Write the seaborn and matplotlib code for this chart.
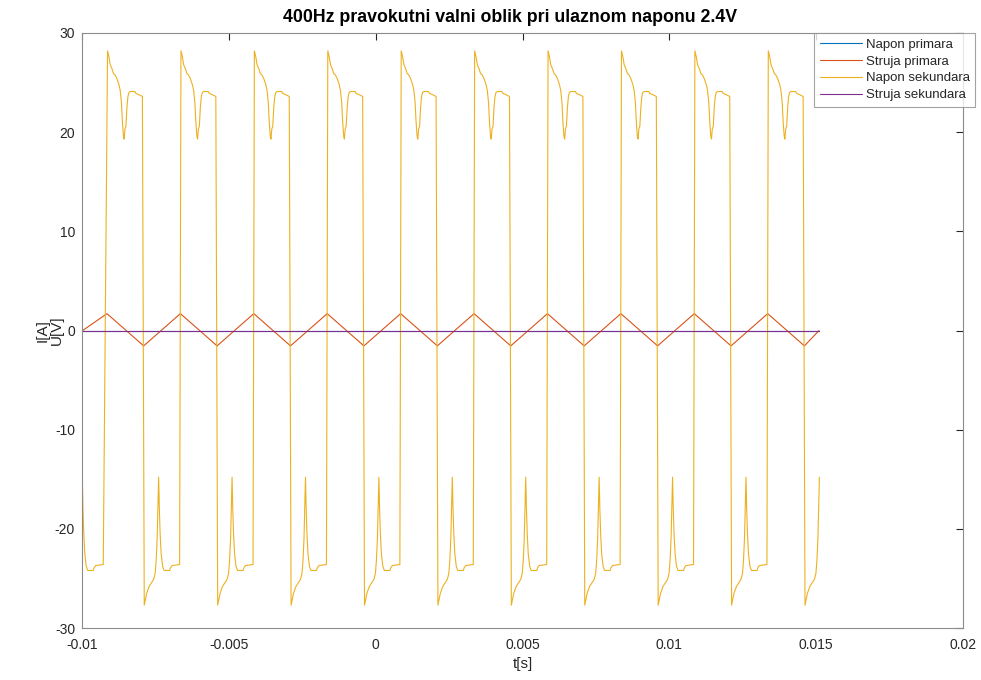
import numpy as np
import pandas as pd
import matplotlib
matplotlib.use("Agg")
import matplotlib.pyplot as plt
import seaborn as sns

# ---------------- data ----------------
title = "400Hz pravokutni valni oblik pri ulaznom naponu 2.4V"
series_names = ["Napon primara", "Struja primara", "Napon sekundara", "Struja sekundara"]
series_colors = ["#0072BD", "#D95319", "#EDB120", "#7E2F8E"]

# edge times of the secondary square wave, in ms
rising_edges_ms = [-9.15, -6.65, -4.15, -1.65, 0.85, 3.35, 5.85, 8.35, 10.85, 13.35]
falling_edges_ms = [-10.50, -7.90, -5.40, -2.90, -0.40, 2.10, 4.60, 7.10, 9.60, 12.10, 14.60]

# shape of the positive half (offset after rising edge, ms -> value V)
pos_off_ms = [0.020, 0.068, 0.112, 0.170, 0.224, 0.272, 0.340, 0.408, 0.452, 0.493,
              0.527, 0.561, 0.585, 0.612, 0.646, 0.680, 0.714, 0.748, 0.792, 0.952,
              0.986, 1.074, 1.207]
pos_val = [28.2, 27.6, 26.8, 26.4, 25.9, 25.8, 25.4, 24.8, 24.2, 23.0,
           21.0, 19.6, 19.3, 20.3, 20.6, 22.5, 23.6, 24.0, 24.1, 24.1,
           23.9, 23.8, 23.6]

# shape of the negative half (offset after falling edge, ms -> value V)
neg_off_ms = [0.020, 0.068, 0.102, 0.187, 0.272, 0.340, 0.391, 0.425, 0.459, 0.486,
              0.510, 0.534, 0.561, 0.595, 0.646, 0.697, 0.884, 0.918, 0.969, 1.224]
neg_val = [-27.7, -27.0, -26.5, -25.8, -25.4, -25.1, -24.5, -23.2, -21.0, -17.5,
           -14.8, -18.0, -20.5, -22.5, -23.8, -24.2, -24.2, -23.9, -23.7, -23.6]

t_start_ms = -10.0
t_end_ms = 15.12

# primary current: triangle vertices
red_t_ms = [-10.0, -9.15, -7.90, -6.65, -5.40, -4.15, -2.90, -1.65, -0.40, 0.85, 2.10,
            3.35, 4.60, 5.85, 7.10, 8.35, 9.60, 10.85, 12.10, 13.35, 14.60, 15.10]
red_val = [-0.05, 1.70, -1.55, 1.70, -1.55, 1.70, -1.55, 1.70, -1.55, 1.70, -1.55,
           1.70, -1.55, 1.70, -1.55, 1.70, -1.55, 1.70, -1.55, 1.70, -1.55, 0.0]

# primary voltage and secondary current (flat near zero)
flat_t_ms = [-10.0, 15.10]
blue_val = [0.0, 0.0]
purple_val = [0.0, 0.0]

x_ticks = [-0.01, -0.005, 0, 0.005, 0.01, 0.015, 0.02]
x_ticklabels = ["-0.01", "-0.005", "0", "0.005", "0.01", "0.015", "0.02"]
y_ticks = [-30, -20, -10, 0, 10, 20, 30]
y_ticklabels = ["-30", "-20", "-10", "0", "10", "20", "30"]

# ---------------- build the secondary voltage series ----------------
yt, yv = [], []
for f in falling_edges_ms:
    for o, v in zip(neg_off_ms, neg_val):
        yt.append(f + o); yv.append(v)
    nxt = [r for r in rising_edges_ms if r > f]
    if nxt:
        r = nxt[0]
        for o, v in zip(pos_off_ms, pos_val):
            yt.append(r + o); yv.append(v)
yel = pd.DataFrame({"t": np.array(yt) / 1000.0, "v": yv})
yel = yel[(yel.t >= t_start_ms / 1000.0) & (yel.t <= t_end_ms / 1000.0)]

red = pd.DataFrame({"t": np.array(red_t_ms) / 1000.0, "v": red_val})
blue = pd.DataFrame({"t": np.array(flat_t_ms) / 1000.0, "v": blue_val})
purple = pd.DataFrame({"t": np.array(flat_t_ms) / 1000.0, "v": purple_val})

# ---------------- plot ----------------
sns.set_theme(style="white")
plt.rcParams["font.family"] = ["Liberation Sans", "DejaVu Sans"]
plt.rcParams["axes.unicode_minus"] = False

fig = plt.figure(figsize=(9.81, 6.80), dpi=100)
ax = fig.add_axes([82 / 981, 1 - 628 / 680, (963 - 82) / 981, (628 - 33) / 680])

lw = 0.8
for df, name, col in zip([blue, red, yel, purple], series_names, series_colors):
    sns.lineplot(data=df, x="t", y="v", ax=ax, color=col, linewidth=lw,
                 label=name, sort=False, estimator=None)

ax.set_xlim(-0.01, 0.02)
ax.set_ylim(-30, 30)
ax.set_xticks(x_ticks)
ax.set_xticklabels(x_ticklabels)
ax.set_yticks(y_ticks)
ax.set_yticklabels(y_ticklabels)
ax.tick_params(direction="in", length=5, width=0.8, colors="#262626",
               labelsize=10, top=True, right=True)
ax.tick_params(axis="x", pad=7)
ax.tick_params(axis="y", pad=5)
for s in ax.spines.values():
    s.set_visible(True)
    s.set_color("#8c8c8c")
    s.set_linewidth(0.8)

ax.set_title(title, fontsize=12.8, fontweight="bold", color="black", pad=8,
             x=(510 - 82) / (963 - 82))
ax.set_xlabel("t[s]", fontsize=11, color="#262626", labelpad=4)
ax.set_ylabel("I[A]\nU[V]", fontsize=11, color="#262626", linespacing=1.0)
ax.yaxis.set_label_coords(-0.021, 0.5)

leg = ax.legend(loc="upper right", bbox_to_anchor=((975 - 82) / (963 - 82), 1.0),
                fontsize=9.5, frameon=True, fancybox=False, handlelength=3.2,
                borderpad=0.4, labelspacing=0.36, handletextpad=0.3, borderaxespad=0)
leg.get_frame().set_edgecolor("#8c8c8c")
leg.get_frame().set_linewidth(0.8)
for t in leg.get_texts():
    t.set_color("#262626")

fig.savefig("out.png", dpi=100)
